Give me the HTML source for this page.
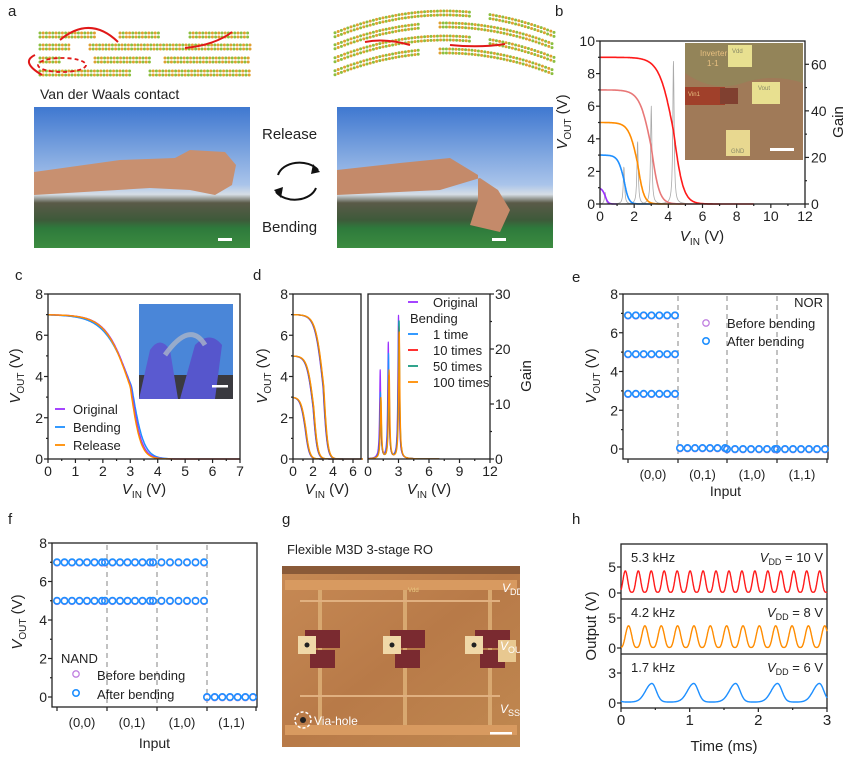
<!DOCTYPE html>
<html><head><meta charset="utf-8">
<style>
html,body{margin:0;padding:0;background:#fff;}
svg{display:block;font-family:"Liberation Sans",Arial,sans-serif;}
</style></head>
<body>
<svg id="s" width="848" height="768" viewBox="0 0 848 768" xmlns="http://www.w3.org/2000/svg">
<defs>
<linearGradient id="sky" x1="0" y1="0" x2="0" y2="1">
<stop offset="0" stop-color="#3f78d0"/><stop offset="0.55" stop-color="#a9c4ea"/><stop offset="0.62" stop-color="#d6dee6"/><stop offset="0.68" stop-color="#5a5a48"/><stop offset="0.8" stop-color="#3e5a3a"/><stop offset="0.86" stop-color="#2e7a3c"/><stop offset="1" stop-color="#3c8c40"/>
</linearGradient>
<linearGradient id="chip" x1="0" y1="0" x2="1" y2="1">
<stop offset="0" stop-color="#c78a55"/><stop offset="0.5" stop-color="#b87a48"/><stop offset="1" stop-color="#c08850"/>
</linearGradient>
</defs>
<g id="root" font-size="14" fill="#222"></g>
</svg>
<script>
const NS="http://www.w3.org/2000/svg";
const R=document.getElementById('root');
function el(t,a,txt){const e=document.createElementNS(NS,t);for(const k in a)e.setAttribute(k,a[k]);if(txt!==undefined)e.textContent=txt;R.appendChild(e);return e;}
function line(x1,y1,x2,y2,c,w,extra){const a={x1,y1,x2,y2,stroke:c||'#222','stroke-width':w||1.2};Object.assign(a,extra||{});return el('line',a);}
function txt(x,y,s,o){const a={x,y};Object.assign(a,o||{});return el('text',a,s);}
function path(pts,c,w,extra){let d='M'+pts.map(p=>p[0].toFixed(1)+','+p[1].toFixed(1)).join('L');const a={d,fill:'none',stroke:c,'stroke-width':w||1.5,'stroke-linejoin':'round'};Object.assign(a,extra||{});return el('path',a);}
function fn(f,xa,xb,sx,sy,n){n=n||300;const p=[];for(let i=0;i<=n;i++){const x=xa+(xb-xa)*i/n;p.push([sx(x),sy(f(x))]);}return p;}
function lin(a,b,c,d){return v=>c+(v-a)*(d-c)/(b-a);}
function frame(x0,y0,x1,y1){el('rect',{x:x0,y:y0,width:x1-x0,height:y1-y0,fill:'none',stroke:'#222','stroke-width':1.3});}
function vtc(VDD,xm,wl,wr){return x=>{const w=x<xm?wl:wr;return VDD/(1+Math.exp((x-xm)/w));};}
function ylab(x,y,main,sub,unit){const t=el('text',{transform:`translate(${x},${y}) rotate(-90)`,'text-anchor':'middle','font-size':15});
 const a=document.createElementNS(NS,'tspan');a.setAttribute('font-style','italic');a.textContent=main;t.appendChild(a);
 if(sub){const b=document.createElementNS(NS,'tspan');b.setAttribute('font-size','10');b.setAttribute('dy','4');b.textContent=sub;t.appendChild(b);}
 const c=document.createElementNS(NS,'tspan');if(sub)c.setAttribute('dy','-4');c.textContent=' '+unit;t.appendChild(c);}
function xlab(x,y,main,sub,unit){const t=el('text',{x,y,'text-anchor':'middle','font-size':15});
 const a=document.createElementNS(NS,'tspan');a.setAttribute('font-style','italic');a.textContent=main;t.appendChild(a);
 if(sub){const b=document.createElementNS(NS,'tspan');b.setAttribute('font-size','10');b.setAttribute('dy','4');b.textContent=sub;t.appendChild(b);}
 const c=document.createElementNS(NS,'tspan');if(sub)c.setAttribute('dy','-4');c.textContent=' '+unit;t.appendChild(c);}
function lbl(x,y,s){txt(x,y,s,{'font-size':15});}

/* ---------- panel a ---------- */
lbl(8,16,'a');
function molRow(x0,x1,y,curve){for(let x=x0;x<x1;x+=3.2){const yy=y+(curve?curve(x):0);el('circle',{cx:x,cy:yy,r:1.5,fill:(Math.round(x/3.2)%2)?'#8cbf3f':'#e0a030'});}}
[[40,250,35],[40,250,47],[40,250,60],[40,250,73]].forEach(([a,b,y],i)=>{
 const segs=i==0?[[40,95],[120,160],[190,250]]:i==1?[[40,70],[90,250]]:i==2?[[40,60],[95,150],[165,250]]:[[40,130],[150,250]];
 segs.forEach(s=>{molRow(s[0],s[1],y-2);molRow(s[0],s[1],y+2);});});
const arc=x=>0.0018*(x-445)*(x-445)-25;
[0,12,25,38].forEach((o,i)=>{const segs=i%2?[[335,420],[440,555]]:[[335,470],[490,555]];segs.forEach(s=>{molRow(s[0],s[1],38+o-2,arc);molRow(s[0],s[1],38+o+2,arc);});});
el('path',{d:'M60,40 Q90,15 118,42',fill:'none',stroke:'#e01818','stroke-width':2});
el('path',{d:'M185,48 Q215,45 232,32',fill:'none',stroke:'#e01818','stroke-width':2});
el('path',{d:'M42,75 Q20,62 35,55',fill:'none',stroke:'#e01818','stroke-width':2});
el('ellipse',{cx:62,cy:65,rx:24,ry:7,fill:'none',stroke:'#e01818','stroke-width':1.8,'stroke-dasharray':'4,3'});
el('path',{d:'M365,42 Q385,38 410,45',fill:'none',stroke:'#e01818','stroke-width':2});
el('path',{d:'M450,45 Q480,48 505,44',fill:'none',stroke:'#e01818','stroke-width':2});
txt(40,99,'Van der Waals contact',{'font-size':14});
el('rect',{x:34,y:107,width:216,height:141,fill:'url(#sky)'});
el('path',{d:'M34,172 L120,160 L175,158 L190,150 L225,152 L236,165 L232,185 L215,195 L190,190 L150,188 L34,195 Z',fill:'#c89070'});
el('rect',{x:337,y:107,width:216,height:141,fill:'url(#sky)'});
el('path',{d:'M337,170 L400,163 L450,158 L478,175 L478,200 L470,225 L500,232 L510,210 L498,190 L480,178 L440,190 L337,195 Z',fill:'#c48a6a'});
el('rect',{x:218,y:238,width:14,height:3,fill:'#fff'});el('rect',{x:492,y:238,width:14,height:3,fill:'#fff'});
txt(262,139,'Release',{'font-size':15});txt(262,232,'Bending',{'font-size':15});
el('path',{d:'M278,175 A22,16 0 0 1 318,170',fill:'none',stroke:'#111','stroke-width':2});
el('path',{d:'M316,188 A22,16 0 0 1 276,192',fill:'none',stroke:'#111','stroke-width':2});
el('path',{d:'M313,164 L320,172 L311,174Z',fill:'#111'});el('path',{d:'M281,198 L274,190 L283,187Z',fill:'#111'});

/* ---------- panel b ---------- */
lbl(555,16,'b');
(function(){const x0=600,x1=805,y0=41,y1=204;const sx=lin(0,12,x0,x1),sy=lin(0,10,y1,y0),sg=lin(0,70,y1,y0);
 el('rect',{x:685,y:43,width:118,height:117,fill:'#a07a58'});
 el('path',{d:'M685,43 h118 v40 q-30,-10 -60,0 q-30,10 -58,-10Z',fill:'#8a8a5a',opacity:0.6});
 el('rect',{x:728,y:45,width:24,height:22,fill:'#e8e090'});el('rect',{x:752,y:82,width:28,height:22,fill:'#e8e090'});
 el('rect',{x:726,y:130,width:24,height:26,fill:'#e8d890'});el('rect',{x:685,y:87,width:40,height:18,fill:'#a0402a'});
 el('rect',{x:720,y:88,width:18,height:16,fill:'#804030'});
 el('rect',{x:770,y:148,width:24,height:3,fill:'#fff'});
 txt(700,56,'Inverter',{'font-size':8,fill:'#e8c080'});txt(707,66,'1-1',{'font-size':8,fill:'#e8c080'});
 txt(688,96,'Vin1',{'font-size':6,fill:'#e8c080'});txt(732,53,'Vdd',{'font-size':6,fill:'#886'});txt(758,90,'Vout',{'font-size':6,fill:'#886'});txt(731,153,'GND',{'font-size':6,fill:'#886'});
 const cs=[[1,0.3,'#9b30ff',5],[3,1.4,'#1e8fff',16],[5,2.2,'#ff8c00',27],[7,3.0,'#e87878',42],[9,4.3,'#ff1a1a',62]];
 cs.forEach(c=>{const g=x=>c[3]/(1+Math.pow((x-c[1])/0.045,2));path(fn(g,0,12,sx,sg,800),'#aaa',0.8);});
 cs.forEach(c=>{path(fn(vtc(c[0],c[1],0.06+0.04*c[0],0.06+0.025*c[0]),0,c[0],sx,sy,400),c[2],1.6);});
 frame(x0,y0,x1,y1);
 for(let v=0;v<=12;v+=1){const X=sx(v);line(X,y1,X,y1+(v%2?2:4));if(v%2==0)txt(X,y1+17,v,{'text-anchor':'middle','font-size':14});}
 for(let v=0;v<=10;v+=1){const Y=sy(v);line(x0,Y,x0-(v%2?2:4),Y);if(v%2==0)txt(x0-5,Y+5,v,{'text-anchor':'end','font-size':14});}
 for(let v=0;v<=60;v+=10){const Y=sg(v);line(x1,Y,x1+(v%20?2:4),Y);if(v%20==0)txt(x1+6,Y+5,v,{'font-size':14});}
 ylab(567,122,'V','OUT','(V)');xlab(702,241,'V','IN','(V)');
 txt(0,0,'Gain',{transform:'translate(843,122) rotate(-90)','text-anchor':'middle','font-size':15});
})();

/* ---------- panel c ---------- */
lbl(15,280,'c');
(function(){const x0=48,x1=240,y0=294,y1=459;const sx=lin(0,7,x0,x1),sy=lin(0,8,y1,y0);
 el('rect',{x:139,y:304,width:94,height:95,fill:'#4a86d8'});
 el('rect',{x:139,y:375,width:94,height:24,fill:'#3a3a40'});
 el('path',{d:'M139,399 L150,350 Q160,335 170,350 L178,399Z',fill:'#5a5ad0'});
 el('path',{d:'M180,399 L195,345 Q210,330 222,345 L215,399Z',fill:'#5656cc'});
 el('path',{d:'M165,355 Q190,320 205,345',fill:'none',stroke:'#aab4c8','stroke-width':5,opacity:0.8});
 el('rect',{x:212,y:385,width:16,height:2.5,fill:'#fff'});
 path(fn(vtc(7,3.05,0.5,0.22),0,7,sx,sy),'#1e8fff',1.5);
 path(fn(vtc(7,3.02,0.45,0.2),0,7,sx,sy),'#9b30ff',1.5);
 path(fn(vtc(7,3.0,0.45,0.19),0,7,sx,sy),'#ff8c00',1.5);
 frame(x0,y0,x1,y1);
 for(let v=0;v<=7;v+=0.5){const X=sx(v);line(X,y1,X,y1+(v%1?2:4));if(v%1==0)txt(X,y1+17,v,{'text-anchor':'middle','font-size':14});}
 for(let v=0;v<=8;v+=1){const Y=sy(v);line(x0,Y,x0-(v%2?2:4),Y);if(v%2==0)txt(x0-5,Y+5,v,{'text-anchor':'end','font-size':14});}
 ylab(20,376,'V','OUT','(V)');xlab(144,494,'V','IN','(V)');
 [['Original','#9b30ff',414],['Bending','#1e8fff',432],['Release','#ff8c00',450]].forEach(l=>{line(55,l[2]-5,65,l[2]-5,l[1],1.8);txt(73,l[2],l[0],{'font-size':13});});
})();

/* ---------- panel d ---------- */
lbl(253,280,'d');
(function(){const y0=294,y1=459;
 let x0=293,x1=361;const sx=lin(0,6.8,x0,x1),sy=lin(0,8,y1,y0);
 const cols=['#9b30ff','#1e8fff','#ff1a1a','#1a9a80','#ff8c00'];
 [[7,3.0],[5,2.0],[3,1.2]].forEach(c=>{cols.forEach((col,i)=>path(fn(vtc(c[0],c[1]+i*0.02,0.12+0.04*c[0],0.2),0,c[0],sx,sy),col,1.3));});
 frame(x0,y0,x1,y1);
 for(let v=0;v<=6;v+=1){const X=sx(v);line(X,y1,X,y1+(v%2?2:4));if(v%2==0)txt(X,y1+17,v,{'text-anchor':'middle','font-size':14});}
 for(let v=0;v<=8;v+=1){const Y=sy(v);line(x0,Y,x0-(v%2?2:4),Y);if(v%2==0)txt(x0-5,Y+5,v,{'text-anchor':'end','font-size':14});}
 ylab(267,376,'V','OUT','(V)');xlab(327,494,'V','IN','(V)');
 x0=368;x1=490;const sx2=lin(0,12,x0,x1),sg=lin(0,30,y1,y0);
 const pk=[[1.2,[16,12,11,11,11]],[2.0,[21,19,15,15,16]],[3.0,[26,25,24,25,23]]];
 cols.forEach((col,i)=>{path(fn(x=>{let s=0;pk.forEach(p=>{s+=p[1][i]/(1+Math.pow((x-p[0]-i*0.02)/0.07,2));});return s;},0,7,sx2,sg,700),col,1.2);});
 frame(x0,y0,x1,y1);
 for(let v=0;v<=12;v+=1.5){const X=sx2(v);line(X,y1,X,y1+(v%3?2:4));if(v%3==0)txt(X,y1+17,v,{'text-anchor':'middle','font-size':14});}
 for(let v=0;v<=30;v+=5){const Y=sg(v);line(x1,Y,x1+(v%10?2:4),Y);if(v%10==0)txt(x1+5,Y+5,v,{'font-size':14});}
 xlab(429,494,'V','IN','(V)');
 txt(0,0,'Gain',{transform:'translate(531,376) rotate(-90)','text-anchor':'middle','font-size':15});
 const L=[['Original','#9b30ff',307,true],['Bending',null,323,false],['1 time','#1e8fff',339,true],['10 times','#ff1a1a',355,true],['50 times','#1a9a80',371,true],['100 times','#ff8c00',387,true]];
 L.forEach(l=>{if(l[1]){line(408,l[2]-5,418,l[2]-5,l[1],1.8);txt(433,l[2],l[0],{'font-size':13});}else txt(410,l[2],l[0],{'font-size':13});});
})();

/* ---------- logic panels ---------- */
function logic(x0,x1,y0,y1,yz,cats,dash,vals,xlabY){const sy=v=>yz-v*(yz-y0)/8;
 frame(x0,y0,x1,y1);
 dash.forEach(X=>line(X,y0+2,X,y1-2,'#999',1.2,{'stroke-dasharray':'5,4'}));
 vals.forEach(v=>{for(let i=0;i<7;i++){const X=v[0]+(v[1]-v[0])*i/6;el('circle',{cx:X,cy:sy(v[2])+0.5,r:3.2,fill:'none',stroke:'#c080e0','stroke-width':1.3});el('circle',{cx:X,cy:sy(v[2]),r:3.2,fill:'none',stroke:'#1e8fff','stroke-width':1.6});}});
 for(let v=0;v<=8;v+=1){const Y=sy(v);line(x0,Y,x0-(v%2?2:4),Y);if(v%2==0)txt(x0-5,Y+5,v,{'text-anchor':'end','font-size':14});}
 cats.forEach((c,i)=>{line(c,y1,c,y1+4);});
 ['(0,0)','(0,1)','(1,0)','(1,1)'].forEach((s,i)=>txt((cats[i]+cats[i+1])/2,y1+20,s,{'text-anchor':'middle','font-size':13}));
 txt((x0+x1)/2,xlabY,'Input',{'text-anchor':'middle','font-size':14});
}
lbl(572,282,'e');
logic(623,828,294,459,449,[628,678,727,777,827],[678,727,777],
 [[628,675,6.9],[628,675,4.9],[628,675,2.85],[680,725,0.05],[727,775,0],[777,825,0]],496);
ylab(596,376,'V','OUT','(V)');
txt(823,307,'NOR',{'text-anchor':'end','font-size':13});
el('circle',{cx:706,cy:323,r:3.2,fill:'none',stroke:'#c080e0','stroke-width':1.3});txt(727,328,'Before bending',{'font-size':13});
el('circle',{cx:706,cy:341,r:3.2,fill:'none',stroke:'#1e8fff','stroke-width':1.6});txt(727,346,'After bending',{'font-size':13});

lbl(8,524,'f');
logic(52,257,543,707,697,[57,107,157,207,256],[107,157,207],
 [[57,102,7.0],[57,102,5.0],[105,150,7.0],[105,150,5.0],[153,204,7.0],[153,204,5.0],[207,253,0]],748);
ylab(22,622,'V','OUT','(V)');
txt(61,663,'NAND',{'font-size':13});
el('circle',{cx:76,cy:674,r:3.2,fill:'none',stroke:'#c080e0','stroke-width':1.3});txt(97,680,'Before bending',{'font-size':13});
el('circle',{cx:76,cy:693,r:3.2,fill:'none',stroke:'#1e8fff','stroke-width':1.6});txt(97,699,'After bending',{'font-size':13});

/* ---------- panel g ---------- */
lbl(282,524,'g');
txt(287,554,'Flexible M3D 3-stage RO',{'font-size':13});
(function(){el('rect',{x:282,y:566,width:238,height:181,fill:'url(#chip)'});
 el('rect',{x:282,y:566,width:238,height:8,fill:'#8a5a38'});
 el('rect',{x:285,y:580,width:232,height:10,fill:'#d89a60'});
 el('rect',{x:285,y:725,width:232,height:10,fill:'#d89a60'});
 for(const x of [320,405,490])el('rect',{x:x-2,y:590,width:4,height:135,fill:'#d8a870'});
 el('rect',{x:300,y:600,width:200,height:2,fill:'#e0b080'});
 el('rect',{x:300,y:695,width:200,height:2,fill:'#e0b080'});
 [[330,630],[415,630],[500,630]].forEach(p=>{el('rect',{x:p[0]-25,y:p[1],width:35,height:18,fill:'#7a2a30'});el('rect',{x:p[0]-20,y:p[1]+20,width:25,height:18,fill:'#7a2a30'});});
 [[298,636],[383,636],[465,636]].forEach(p=>{el('rect',{x:p[0],y:p[1],width:18,height:18,fill:'#f0d8a8'});el('circle',{cx:p[0]+9,cy:p[1]+9,r:2.5,fill:'#222'});});
 el('rect',{x:498,y:640,width:18,height:22,fill:'#e8c890'});
 el('circle',{cx:303,cy:720,r:8,fill:'none',stroke:'#fff','stroke-width':1.5,'stroke-dasharray':'3,2'});
 el('circle',{cx:303,cy:720,r:3,fill:'#222'});
 txt(314,725,'Via-hole',{'font-size':12,fill:'#fff'});
 el('rect',{x:490,y:732,width:22,height:2.5,fill:'#fff'});
 function vl(x,y,sub){const t=el('text',{x,y,'font-size':12,fill:'#fff','font-style':'italic'});t.textContent='V';const s=document.createElementNS(NS,'tspan');s.setAttribute('font-size','9');s.setAttribute('dy','3');s.setAttribute('font-style','normal');s.textContent=sub;t.appendChild(s);}
 vl(502,592,'DD');vl(500,650,'OUT');vl(500,713,'SS');
 txt(408,592,'Vdd',{'font-size':6,fill:'#e8c880'});
})();

/* ---------- panel h ---------- */
lbl(572,524,'h');
(function(){const x0=621,x1=827,sx=lin(0,3,x0,x1);
 el('rect',{x:x0,y:544,width:x1-x0,height:164,fill:'none',stroke:'#222','stroke-width':1.3});
 line(x0,599,x1,599,'#222',1.3);line(x0,654,x1,654,'#222',1.3);
 const sR=lin(0,5,593,567),sO=lin(0,5,648,618),sB=lin(0,3,703,673);
 path(fn(t=>0.15+4.1*Math.pow(0.5+0.5*Math.cos(2*Math.PI*5.3*(t-0.063)),1.6),0,3,sx,sR,900),'#ff1a1a',1.4);
 path(fn(t=>0.1+3.6*Math.pow(0.5+0.5*Math.cos(2*Math.PI*4.2*(t-0.11)),1.5),0,3,sx,sO,900),'#ff8c00',1.4);
 path(fn(t=>{let d=((t-0.45)%0.61+0.61*10)%0.61;if(d>0.305)d-=0.61;const w=d<0?0.13:0.09;return 0.1+1.85*Math.exp(-Math.pow(d/w,2));},0,3,sx,sB,900),'#1e8fff',1.4);
 for(let v=0;v<=3;v+=0.5){const X=sx(v);line(X,708,X,708+(v%1?2:4));if(v%1==0)txt(X,725,v,{'text-anchor':'middle','font-size':15});}
 [[sR,[0,5]],[sO,[0,5]],[sB,[0,3]]].forEach(a=>a[1].forEach(v=>{const Y=a[0](v);line(x0,Y,x0-4,Y);txt(x0-5,Y+5,v,{'text-anchor':'end','font-size':14});}));
 txt(0,0,'Output (V)',{transform:'translate(596,626) rotate(-90)','text-anchor':'middle','font-size':15});
 txt(724,751,'Time (ms)',{'text-anchor':'middle','font-size':15});
 function vdd(y,v){const t=el('text',{x:823,y,'text-anchor':'end','font-size':13});const a=document.createElementNS(NS,'tspan');a.setAttribute('font-style','italic');a.textContent='V';t.appendChild(a);const b=document.createElementNS(NS,'tspan');b.setAttribute('font-size','9');b.setAttribute('dy','3');b.textContent='DD';t.appendChild(b);const c=document.createElementNS(NS,'tspan');c.setAttribute('dy','-3');c.textContent=' = '+v;t.appendChild(c);}
 txt(631,562,'5.3 kHz',{'font-size':13});vdd(562,'10 V');
 txt(631,617,'4.2 kHz',{'font-size':13});vdd(617,'8 V');
 txt(631,672,'1.7 kHz',{'font-size':13});vdd(672,'6 V');
})();
</script>
</body></html>
